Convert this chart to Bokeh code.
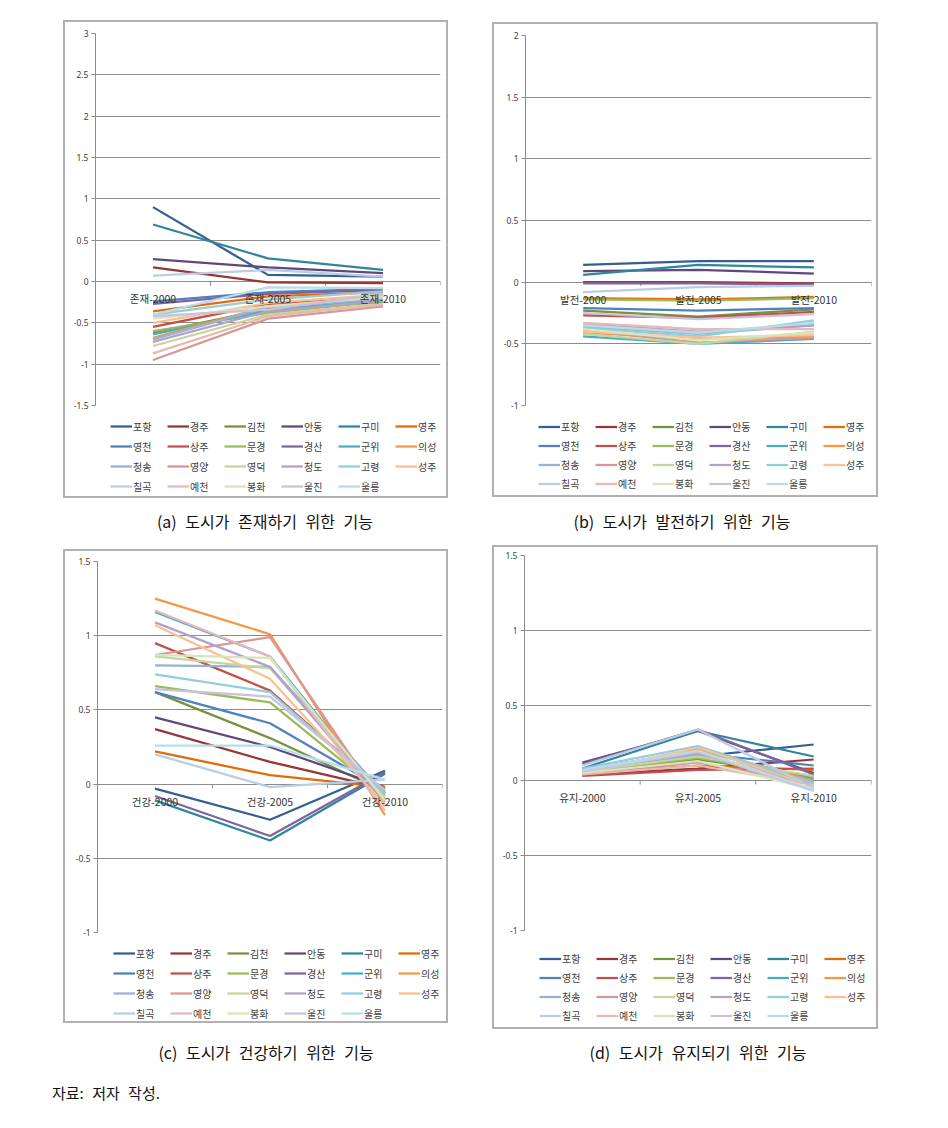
import math
from bokeh.plotting import figure
from bokeh.models import (ColumnDataSource, Legend, LegendItem, FixedTicker,
                          NumeralTickFormatter, Range1d, Spacer, Div)
from bokeh.layouts import row, column
from bokeh.core.properties import value
from bokeh.embed import file_html
from bokeh.resources import INLINE

cities = ["포항", "경주", "김천", "안동", "구미", "영주", "영천", "상주", "문경", "경산",
          "군위", "의성", "청송", "영양", "영덕", "청도", "고령", "성주", "칠곡", "예천",
          "봉화", "울진", "울릉"]

colors = ["#365F91", "#953735", "#76923C", "#5F497A", "#31859C", "#E36C09",
          "#4F81BD", "#C0504D", "#9BBB59", "#8064A2", "#4BACC6", "#F79646",
          "#95B3D7", "#D99694", "#C3D69B", "#B3A2C7", "#92CDDC", "#FAC08F",
          "#B9CDE5", "#E6B9B8", "#D7E4BD", "#CCC1DA", "#B7DEE8"]

cats_a = ["존재-2000", "존재-2005", "존재-2010"]
cats_b = ["발전-2000", "발전-2005", "발전-2010"]
cats_c = ["건강-2000", "건강-2005", "건강-2010"]
cats_d = ["유지-2000", "유지-2005", "유지-2010"]

vals_a = [
    [0.90, 0.08, 0.06], [0.17, -0.01, -0.02], [-0.62, -0.33, -0.25], [0.27, 0.17, 0.10],
    [0.69, 0.28, 0.14], [-0.36, -0.18, -0.13], [-0.24, -0.13, -0.09], [-0.55, -0.27, -0.20],
    [-0.60, -0.38, -0.24], [-0.27, -0.15, -0.10], [-0.64, -0.35, -0.22], [-0.68, -0.30, -0.18],
    [-0.70, -0.31, -0.21], [-0.95, -0.45, -0.30], [-0.78, -0.40, -0.27], [-0.73, -0.36, -0.23],
    [-0.40, -0.22, -0.12], [-0.50, -0.26, -0.16], [0.07, 0.14, 0.06], [-0.87, -0.42, -0.28],
    [-0.45, -0.30, -0.19], [-0.42, -0.34, -0.15], [-0.40, -0.07, -0.08],
]

vals_b = [
    [0.14, 0.17, 0.17], [0.00, 0.00, -0.01], [-0.23, -0.28, -0.22], [0.09, 0.10, 0.07],
    [0.06, 0.14, 0.12], [-0.13, -0.14, -0.12], [-0.21, -0.23, -0.21], [-0.27, -0.29, -0.24],
    [-0.14, -0.15, -0.13], [-0.01, -0.01, -0.02], [-0.44, -0.50, -0.46], [-0.41, -0.46, -0.44],
    [-0.36, -0.42, -0.35], [-0.39, -0.49, -0.45], [-0.42, -0.50, -0.40], [-0.34, -0.40, -0.35],
    [-0.37, -0.44, -0.31], [-0.40, -0.45, -0.43], [-0.08, -0.04, -0.03], [-0.33, -0.38, -0.38],
    [-0.38, -0.47, -0.41], [-0.25, -0.30, -0.26], [-0.35, -0.41, -0.33],
]

vals_c = [
    [-0.03, -0.24, 0.09], [0.37, 0.15, -0.03], [0.62, 0.31, -0.05], [0.45, 0.25, -0.02],
    [-0.11, -0.38, 0.07], [0.22, 0.06, -0.02], [0.62, 0.41, -0.04], [0.95, 0.63, -0.06],
    [0.66, 0.55, -0.08], [-0.08, -0.35, 0.08], [1.16, 0.86, -0.10], [1.25, 1.01, -0.21],
    [0.80, 0.79, -0.07], [0.87, 0.99, -0.15], [0.86, 0.78, -0.09], [1.09, 0.79, -0.12],
    [0.74, 0.62, -0.06], [1.07, 0.71, -0.14], [0.20, -0.02, 0.03], [1.17, 0.86, -0.18],
    [0.87, 0.85, -0.11], [0.64, 0.59, -0.04], [0.26, 0.26, 0.03],
]

vals_d = [
    [0.07, 0.16, 0.24], [0.04, 0.08, 0.14], [0.06, 0.14, 0.03], [0.12, 0.33, 0.05],
    [0.08, 0.33, 0.16], [0.05, 0.10, 0.07], [0.07, 0.18, 0.10], [0.03, 0.07, 0.08],
    [0.06, 0.15, 0.02], [0.11, 0.34, 0.04], [0.07, 0.20, 0.01], [0.06, 0.21, 0.00],
    [0.05, 0.17, -0.01], [0.04, 0.12, -0.02], [0.06, 0.16, 0.03], [0.07, 0.18, -0.03],
    [0.08, 0.23, -0.02], [0.05, 0.22, -0.04], [0.10, 0.34, -0.05], [0.04, 0.10, -0.03],
    [0.05, 0.13, -0.06], [0.06, 0.19, -0.07], [0.07, 0.20, -0.06],
]

ticks_a = [-1.5, -1, -0.5, 0, 0.5, 1, 1.5, 2, 2.5, 3]
ticks_b = [-1, -0.5, 0, 0.5, 1, 1.5, 2]
ticks_c = [-1, -0.5, 0, 0.5, 1, 1.5]
ticks_d = [-1, -0.5, 0, 0.5, 1, 1.5]

KR = "Noto Sans CJK KR"
GRID = "#8c8c8c"
TXT = "#404040"
LW = 2.25


def make_plot(cats, vals, ticks, W, H, ml, mr, mt, fh):
    p = figure(width=W, height=H, title=None, x_range=Range1d(0, len(cats)),
               y_range=Range1d(ticks[0], ticks[-1]), x_axis_location=None,
               output_backend="svg", toolbar_location=None,
               min_border_left=ml, min_border_right=mr, min_border_top=mt,
               min_border_bottom=H - mt - fh)
    p.outline_line_color = None
    p.background_fill_color = "white"
    p.border_fill_color = "white"
    p.xgrid.visible = False
    p.yaxis.ticker = FixedTicker(ticks=ticks)
    p.yaxis.formatter = NumeralTickFormatter(format="0.[0]")
    p.yaxis.axis_line_color = GRID
    p.yaxis.major_tick_line_color = GRID
    p.yaxis.major_tick_out = 4
    p.yaxis.major_tick_in = 0
    p.yaxis.minor_tick_line_color = None
    p.yaxis.major_label_standoff = 3
    p.yaxis.major_label_text_font = "Noto Sans"
    p.yaxis.major_label_text_font_size = "8.5px"
    p.yaxis.major_label_text_color = TXT
    p.ygrid.grid_line_color = GRID
    p.ygrid.grid_line_width = 1

    xs = [i + 0.5 for i in range(len(cats))]
    bounds = [i + 1 for i in range(len(cats))]
    p.ray(x=bounds, y=[0] * len(bounds), length=4, length_units="screen",
          angle=-math.pi / 2, line_color=GRID, line_width=1)

    for i, city in enumerate(cities):
        src = ColumnDataSource(dict(x=xs, y=vals[i]))
        p.line("x", "y", source=src, line_color=colors[i], line_width=LW)

    p.text(x=xs, y=[0] * len(xs), text=cats, text_align="center",
           text_baseline="middle", y_offset=17, text_font=value(KR),
           text_font_size="10.5px", text_color="#333333")
    return p


def make_legend(W, H, lx, ly, row_h):
    q = figure(width=W, height=H, title=None, x_range=Range1d(0, 1),
               y_range=Range1d(0, 1), x_axis_location=None, y_axis_location=None,
               output_backend="svg", toolbar_location=None,
               min_border=0, min_border_left=0, min_border_right=0,
               min_border_top=0, min_border_bottom=0)
    q.outline_line_color = None
    q.grid.visible = False
    q.background_fill_color = "white"
    q.border_fill_color = "white"
    items = []
    for i, city in enumerate(cities):
        r = q.line(x=[-10, -9], y=[-10, -9], line_color=colors[i], line_width=LW)
        items.append(LegendItem(label=city, renderers=[r]))
    leg = Legend(items=items, location=(lx, ly), orientation="horizontal",
                 ncols=6, border_line_color=None, background_fill_alpha=0,
                 padding=2, margin=0, spacing=4, glyph_width=22,
                 glyph_height=row_h, label_height=row_h, label_width=30,
                 label_standoff=1, label_text_font=KR,
                 label_text_font_size="10px", label_text_color=TXT)
    q.add_layout(leg, "center")
    return q


def boxed(plot, leg):
    return column(plot, leg, styles={"border": "2px solid #b0b0b0"})


boxA = boxed(make_plot(cats_a, vals_a, ticks_a, 381, 391, 30, 6, 11, 372),
             make_legend(381, 83, 15, 2, 16))
boxB = boxed(make_plot(cats_b, vals_b, ticks_b, 382, 389, 31, 5, 11, 370),
             make_legend(382, 82, 13, 4, 13))
boxC = boxed(make_plot(cats_c, vals_c, ticks_c, 381, 389, 32, 4, 10, 371),
             make_legend(381, 81, 16, 0, 16))
boxD = boxed(make_plot(cats_d, vals_d, ticks_d, 382, 391, 30, 5, 8, 375),
             make_legend(382, 89, 15, 4, 15))


def cap(text, w, h, size=16, align="center"):
    return Div(text=text, width=w, height=h, margin=0,
               styles={"font-family": KR, "font-size": f"{size}px",
                       "text-align": align, "line-height": f"{h}px",
                       "word-spacing": "5px", "color": "#111111"})


capA = cap("(a) 도시가 존재하기 위한 기능", 530, 47)
capB = cap("(b) 도시가 발전하기 위한 기능", 304, 47)
capC = cap("(c) 도시가 건강하기 위한 기능", 532, 46)
capD = cap("(d) 도시가 유지되기 위한 기능", 332, 46)
srcnote = cap("자료: 저자 작성.", 300, 36, size=15, align="left")

layout = column(
    Spacer(height=20),
    row(Spacer(width=63), boxA, Spacer(width=44), column(Spacer(height=2), boxB)),
    row(capA, capB),
    row(Spacer(width=63), column(Spacer(height=4), boxC), Spacer(width=44), boxD),
    row(capC, capD),
    row(Spacer(width=52), srcnote),
)

open("out.html", "w").write(file_html(layout, INLINE))
